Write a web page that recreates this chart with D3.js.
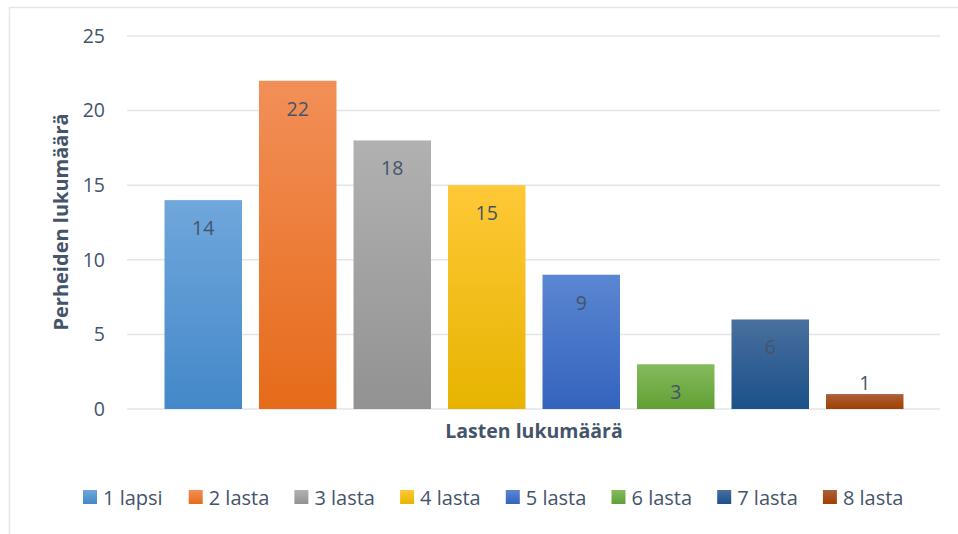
<!DOCTYPE html>
<html>
<head>
<meta charset="utf-8">
<script src="https://cdn.jsdelivr.net/npm/d3@7"></script>
<style>
  body { margin: 0; background: #fff; }
  text { font-family: "Open Sans", "Noto Sans", sans-serif; fill: #44546A; }
</style>
</head>
<body>
<div id="chart"></div>
<script>
// data
var categories = ["1 lapsi", "2 lasta", "3 lasta", "4 lasta", "5 lasta", "6 lasta", "7 lasta", "8 lasta"];
var values = [14, 22, 18, 15, 9, 3, 6, 1];
var yTicks = [0, 5, 10, 15, 20, 25];
var yTitle = "Perheiden lukumäärä";
var xTitle = "Lasten lukumäärä";

// gradient colours per bar (top, bottom)
var colors = [
  ["#70a7dc", "#4388c9"],
  ["#f28f58", "#e66b1a"],
  ["#b1b1b1", "#929292"],
  ["#ffc837", "#e6b400"],
  ["#5b86d2", "#3364bd"],
  ["#85bb5e", "#61a034"],
  ["#4a6f9f", "#1a5189"],
  ["#ad5f3b", "#a04000"]
];

var W = 958, H = 534;
var svg = d3.select("#chart").append("svg")
    .attr("width", W)
    .attr("height", H);

// outer chart frame
svg.append("rect")
    .attr("x", 9.5).attr("y", 7.5)
    .attr("width", W + 20).attr("height", H + 20)
    .attr("fill", "#fff")
    .attr("stroke", "#e3e6ea")
    .attr("stroke-width", 1.5);

var defs = svg.append("defs");
colors.forEach(function(c, i) {
  var g = defs.append("linearGradient")
      .attr("id", "g" + i)
      .attr("x1", 0).attr("y1", 0).attr("x2", 0).attr("y2", 1);
  g.append("stop").attr("offset", "0%").attr("stop-color", c[0]);
  g.append("stop").attr("offset", "100%").attr("stop-color", c[1]);
});

var gridLeft = 127, gridRight = 940;

var y = d3.scaleLinear()
    .domain([0, 25])
    .range([409, 36]);

var x = d3.scaleBand()
    .domain(categories)
    .range([156, 912])
    .paddingInner(0.18)
    .paddingOuter(0.09);

// gridlines
svg.append("g")
    .selectAll("line")
    .data(yTicks)
  .enter().append("line")
    .attr("x1", gridLeft).attr("x2", gridRight)
    .attr("y1", function(d) { return y(d); })
    .attr("y2", function(d) { return y(d); })
    .attr("stroke", "#e1e5ea")
    .attr("stroke-width", 1.5);

// y axis labels
var yAxis = svg.append("g")
    .attr("transform", "translate(105,0)")
    .call(d3.axisLeft(y).tickValues(yTicks).tickSize(0).tickPadding(0));
yAxis.select(".domain").remove();
yAxis.selectAll("text")
    .style("font-size", "19.5px")
    .attr("fill", "#44546A");

// bars
svg.selectAll(".bar")
    .data(values)
  .enter().append("rect")
    .attr("class", "bar")
    .attr("x", function(d, i) { return x(categories[i]); })
    .attr("y", function(d) { return y(d); })
    .attr("width", x.bandwidth())
    .attr("height", function(d) { return y(0) - y(d); })
    .attr("fill", function(d, i) { return "url(#g" + i + ")"; });

// value labels, inside end unless bar too short
svg.selectAll(".lbl")
    .data(values)
  .enter().append("text")
    .attr("class", "lbl")
    .attr("x", function(d, i) { return x(categories[i]) + x.bandwidth() / 2; })
    .attr("y", function(d) {
      var top = y(d);
      return (y(0) - top) > 30 ? top + 35 : top - 4;
    })
    .attr("text-anchor", "middle")
    .style("font-size", "19.5px")
    .text(function(d) { return d; });

// axis titles
svg.append("text")
    .attr("transform", "translate(68,222) rotate(-90)")
    .attr("text-anchor", "middle")
    .style("font-size", "20px")
    .style("font-weight", "bold")
    .text(yTitle);

svg.append("text")
    .attr("x", 534).attr("y", 438)
    .attr("text-anchor", "middle")
    .style("font-size", "19.5px")
    .style("font-weight", "bold")
    .text(xTitle);

// legend
var legend = svg.append("g").attr("transform", "translate(83,490)");
var item = legend.selectAll("g")
    .data(categories)
  .enter().append("g")
    .attr("transform", function(d, i) { return "translate(" + (i * 105.7) + ",0)"; });
item.append("rect")
    .attr("width", 14).attr("height", 14)
    .attr("fill", function(d, i) { return "url(#g" + i + ")"; });
item.append("text")
    .attr("x", 20).attr("y", 14.5)
    .style("font-size", "20px")
    .text(function(d) { return d; });
</script>
</body>
</html>
